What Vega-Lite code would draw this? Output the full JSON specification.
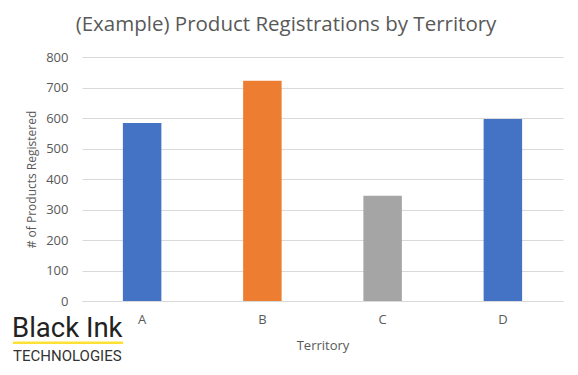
{
  "$schema": "https://vega.github.io/schema/vega-lite/v6.json",
  "autosize": {"type": "none"},
  "padding": {"left": 82, "top": 57, "right": 15, "bottom": 74},
  "width": 481,
  "height": 244,
  "background": "white",
  "title": {
    "text": "(Example) Product Registrations by Territory",
    "font": "Open Sans",
    "fontSize": 20.5,
    "fontWeight": "normal",
    "color": "#595959",
    "anchor": "middle",
    "dx": -36.5,
    "offset": 16
  },
  "config": {
    "view": {"stroke": null},
    "font": "Open Sans"
  },
  "layer": [
    {
      "data": {
        "values": [
          {"Territory": "A", "Registered": 584, "Color": "#4472C4"},
          {"Territory": "B", "Registered": 722, "Color": "#ED7D31"},
          {"Territory": "C", "Registered": 345, "Color": "#A5A5A5"},
          {"Territory": "D", "Registered": 597, "Color": "#4472C4"}
        ]
      },
      "mark": {"type": "bar"},
      "encoding": {
        "x": {
          "field": "Territory",
          "type": "nominal",
          "scale": {"paddingInner": 0.68, "paddingOuter": 0.34},
          "axis": {
            "labelAngle": 0,
            "labelFont": "Open Sans",
            "labelFontSize": 13,
            "labelColor": "#595959",
            "labelPadding": 12,
            "ticks": false,
            "domain": true,
            "domainColor": "#d9d9d9",
            "title": "Territory",
            "titleFont": "Open Sans",
            "titleFontSize": 13,
            "titleFontWeight": "normal",
            "titleColor": "#595959",
            "titlePadding": 13
          }
        },
        "y": {
          "field": "Registered",
          "type": "quantitative",
          "scale": {"domain": [0, 800], "nice": false},
          "axis": {
            "values": [0, 100, 200, 300, 400, 500, 600, 700, 800],
            "labelFont": "Open Sans",
            "labelFontSize": 13,
            "labelColor": "#595959",
            "labelPadding": 14,
            "ticks": false,
            "domain": false,
            "grid": true,
            "gridColor": "#d9d9d9",
            "gridWidth": 1,
            "title": "# of Products Registered",
            "titleFont": "Open Sans",
            "titleFontSize": 12,
            "titleFontWeight": "normal",
            "titleColor": "#595959",
            "titlePadding": 7
          }
        },
        "color": {"field": "Color", "type": "nominal", "scale": null, "legend": null}
      }
    },
    {
      "data": {"values": [{"t": "Black Ink"}]},
      "mark": {"type": "text", "font": "Roboto", "fontSize": 27.5, "color": "#222222", "align": "left", "baseline": "alphabetic", "clip": false},
      "encoding": {
        "text": {"field": "t"},
        "x": {"value": -70},
        "y": {"value": 280}
      }
    },
    {
      "data": {"values": [{"t": "line"}]},
      "mark": {"type": "rule", "color": "#FFE135", "strokeWidth": 2.5, "clip": false},
      "encoding": {
        "x": {"value": -69},
        "x2": {"value": 41},
        "y": {"value": 285.7}
      }
    },
    {
      "data": {"values": [{"t": "TECHNOLOGIES"}]},
      "mark": {"type": "text", "font": "Roboto", "fontSize": 15, "color": "#333333", "align": "left", "baseline": "alphabetic", "clip": false},
      "encoding": {
        "text": {"field": "t"},
        "x": {"value": -69},
        "y": {"value": 304}
      }
    }
  ]
}
